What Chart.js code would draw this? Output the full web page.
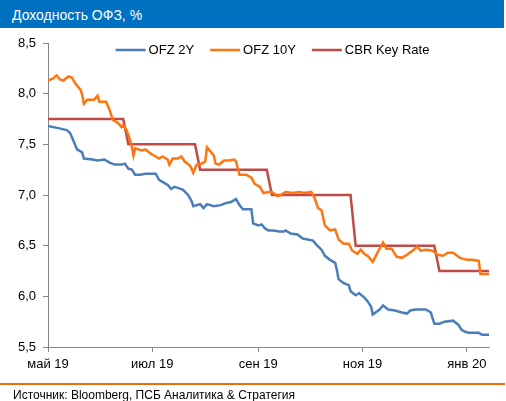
<!DOCTYPE html>
<html>
<head>
<meta charset="utf-8">
<script src="https://cdn.jsdelivr.net/npm/chart.js@4.4.1/dist/chart.umd.min.js"></script>
<style>
  body { margin: 0; width: 506px; height: 401px; position: relative; overflow: hidden; background: #fff;
         font-family: "Liberation Sans", Arial, sans-serif; }
  #chart { position: absolute; left: 0; top: 0; }
  #title { position: absolute; left: 0; top: 0; width: 504px; height: 28px; background: #0070C0; color: #fff;
           font-size: 14px; line-height: 30px; padding-left: 12px; box-sizing: border-box; }
  #rule { position: absolute; left: 0; top: 383px; width: 505px; height: 2px; background: #E46C0A; }
  #source { position: absolute; left: 13px; top: 388px; font-size: 12px; color: #000; }
</style>
</head>
<body>
<canvas id="chart" width="506" height="401"></canvas>
<div id="title">Доходность ОФЗ, %</div>
<div id="rule"></div>
<div id="source">Источник: Bloomberg, ПСБ Аналитика &amp; Стратегия</div>
<script>
// Axis
const startDate = '2019-05-01';
const endDate = '2020-01-14';
const tickDates = ['2019-05-01', '2019-07-01', '2019-09-01', '2019-11-01', '2020-01-01'];
const tickLabels = ['май 19', 'июл 19', 'сен 19', 'ноя 19', 'янв 20'];

// OFZ 2Y
const ofz2yDates = ['2019-05-01','2019-05-07','2019-05-12','2019-05-14','2019-05-16','2019-05-18','2019-05-21','2019-05-22',
  '2019-05-27','2019-05-30','2019-06-03','2019-06-06','2019-06-09','2019-06-13','2019-06-15','2019-06-17','2019-06-19',
  '2019-06-21','2019-06-24','2019-06-27','2019-06-30','2019-07-03','2019-07-05','2019-07-07','2019-07-10','2019-07-12',
  '2019-07-14','2019-07-16','2019-07-19','2019-07-22','2019-07-24','2019-07-25','2019-07-29','2019-07-31','2019-08-02',
  '2019-08-06','2019-08-10','2019-08-13','2019-08-16','2019-08-19','2019-08-21','2019-08-23','2019-08-25','2019-08-28',
  '2019-08-29','2019-09-01','2019-09-03','2019-09-05','2019-09-07','2019-09-10','2019-09-13','2019-09-16','2019-09-17',
  '2019-09-20','2019-09-24','2019-09-27','2019-09-30','2019-10-03','2019-10-05','2019-10-08','2019-10-10','2019-10-13',
  '2019-10-16','2019-10-17','2019-10-18','2019-10-21','2019-10-24','2019-10-25','2019-10-28','2019-10-30','2019-11-02',
  '2019-11-04','2019-11-06','2019-11-07','2019-11-11','2019-11-13','2019-11-16','2019-11-20','2019-11-24','2019-11-27',
  '2019-11-29','2019-12-02','2019-12-08','2019-12-11','2019-12-13','2019-12-16','2019-12-19','2019-12-24','2019-12-27',
  '2019-12-29','2019-12-31','2020-01-02','2020-01-08','2020-01-10','2020-01-14'];
const ofz2y = [7.68,7.66,7.64,7.61,7.53,7.45,7.42,7.36,
  7.35,7.34,7.35,7.32,7.30,7.30,7.31,7.26,7.25,
  7.20,7.20,7.21,7.21,7.21,7.15,7.13,7.10,7.06,
  7.08,7.07,7.05,7.00,6.94,6.89,6.91,6.87,6.91,
  6.89,6.90,6.92,6.93,6.96,6.90,6.86,6.86,6.86,
  6.72,6.70,6.71,6.67,6.65,6.65,6.64,6.64,6.65,
  6.62,6.61,6.57,6.56,6.55,6.51,6.46,6.40,6.36,
  6.33,6.26,6.17,6.13,6.11,6.05,6.01,6.03,5.99,
  5.95,5.90,5.82,5.87,5.91,5.87,5.86,5.84,5.83,
  5.86,5.87,5.87,5.84,5.73,5.73,5.75,5.76,5.72,
  5.67,5.65,5.64,5.64,5.62,5.62];

// OFZ 10Y
const ofz10yDates = ['2019-05-01','2019-05-04','2019-05-06','2019-05-08','2019-05-10','2019-05-13','2019-05-15','2019-05-17',
  '2019-05-20','2019-05-21','2019-05-22','2019-05-24','2019-05-28','2019-05-30','2019-05-31','2019-06-04','2019-06-06',
  '2019-06-08','2019-06-11','2019-06-13','2019-06-14','2019-06-16','2019-06-18','2019-06-19','2019-06-20','2019-06-21',
  '2019-06-25','2019-06-27','2019-06-30','2019-07-03','2019-07-05','2019-07-07','2019-07-10','2019-07-11','2019-07-13',
  '2019-07-16','2019-07-18','2019-07-20','2019-07-23','2019-07-24','2019-07-25','2019-07-27','2019-07-30','2019-08-01',
  '2019-08-02','2019-08-04','2019-08-06','2019-08-07','2019-08-09','2019-08-12','2019-08-15','2019-08-18','2019-08-19',
  '2019-08-21','2019-08-23','2019-08-25','2019-08-28','2019-08-30','2019-09-02','2019-09-04','2019-09-07','2019-09-09',
  '2019-09-12','2019-09-14','2019-09-17','2019-09-21','2019-09-25','2019-09-28','2019-10-02','2019-10-04','2019-10-06',
  '2019-10-08','2019-10-10','2019-10-13','2019-10-16','2019-10-18','2019-10-21','2019-10-24','2019-10-26','2019-10-29',
  '2019-10-31','2019-11-02','2019-11-04','2019-11-07','2019-11-10','2019-11-13','2019-11-15','2019-11-18','2019-11-21',
  '2019-11-24','2019-11-27','2019-12-01','2019-12-03','2019-12-05','2019-12-08','2019-12-12','2019-12-15','2019-12-18',
  '2019-12-21','2019-12-24','2019-12-28','2020-01-01','2020-01-04','2020-01-08','2020-01-09','2020-01-14'];
const ofz10y = [8.13,8.15,8.18,8.14,8.13,8.17,8.16,8.10,
  8.04,7.99,7.90,7.94,7.94,7.98,7.92,7.92,7.84,
  7.74,7.71,7.67,7.69,7.64,7.54,7.48,7.39,7.46,
  7.44,7.45,7.41,7.38,7.36,7.38,7.35,7.30,7.36,
  7.36,7.38,7.33,7.29,7.26,7.22,7.30,7.31,7.33,
  7.47,7.43,7.39,7.31,7.30,7.34,7.34,7.35,7.33,
  7.20,7.20,7.20,7.17,7.11,7.08,7.02,7.03,7.03,
  6.99,7.00,7.03,7.02,7.03,7.02,7.03,6.97,6.87,
  6.85,6.70,6.65,6.66,6.56,6.52,6.52,6.45,6.42,
  6.46,6.42,6.40,6.34,6.44,6.53,6.47,6.47,6.39,
  6.38,6.41,6.46,6.49,6.45,6.46,6.45,6.41,6.40,
  6.43,6.43,6.38,6.36,6.36,6.35,6.22,6.22];

// CBR Key Rate
const keyRateDates = ['2019-05-01','2019-06-14','2019-06-17','2019-07-26','2019-07-29','2019-09-06','2019-09-09',
  '2019-10-25','2019-10-28','2019-12-13','2019-12-16','2020-01-14'];
const keyRate = [7.75,7.75,7.50,7.50,7.25,7.25,7.00,7.00,6.50,6.50,6.25,6.25];

const FONT = '"Liberation Sans", Arial, sans-serif';
const AXIS_COLOR = '#868686';

function day(s) {
  return (Date.parse(s) - Date.parse(startDate)) / 86400000;
}

function points(dates, values) {
  return dates.map((d, i) => ({ x: day(d), y: values[i] }));
}

// Legend drawn on top of the plot, like the original
const topLegend = {
  id: 'topLegend',
  afterDraw(chart) {
    const ctx = chart.ctx;
    const area = chart.chartArea;
    ctx.save();
    ctx.font = '13px ' + FONT;
    ctx.textBaseline = 'middle';
    const lineLen = 30, textGap = 3, itemGap = 16;
    const items = chart.data.datasets.map(ds => ({
      text: ds.label, color: ds.borderColor, w: ctx.measureText(ds.label).width
    }));
    const total = items.reduce((s, it) => s + lineLen + textGap + it.w, 0) + itemGap * (items.length - 1);
    let x = (area.left + area.right) / 2 + 4 - total / 2;
    const y = 50;
    items.forEach(it => {
      ctx.strokeStyle = it.color;
      ctx.lineWidth = 2.5;
      ctx.beginPath();
      ctx.moveTo(x, y);
      ctx.lineTo(x + lineLen, y);
      ctx.stroke();
      ctx.fillStyle = '#000';
      ctx.fillText(it.text, x + lineLen + textGap, y);
      x += lineLen + textGap + it.w + itemGap;
    });
    ctx.restore();
  }
};

new Chart(document.getElementById('chart'), {
  type: 'line',
  data: {
    datasets: [
      { label: 'OFZ 2Y', data: points(ofz2yDates, ofz2y), borderColor: '#4A7EBB', borderWidth: 2.5 },
      { label: 'OFZ 10Y', data: points(ofz10yDates, ofz10y), borderColor: '#FF7510', borderWidth: 2.5 },
      { label: 'CBR Key Rate', data: points(keyRateDates, keyRate), borderColor: '#BE4B48', borderWidth: 2.5 }
    ]
  },
  options: {
    responsive: false,
    animation: false,
    elements: { point: { radius: 0 }, line: { tension: 0 } },
    layout: { padding: { left: 0, right: 17, top: 43, bottom: 28 } },
    plugins: { legend: { display: false }, tooltip: { enabled: false } },
    scales: {
      x: {
        type: 'linear',
        min: 0,
        max: day(endDate),
        afterBuildTicks: s => { s.ticks = tickDates.map(d => ({ value: day(d) })); },
        afterFit: s => { s.height = 26; },
        ticks: {
          autoSkip: false, maxRotation: 0, padding: 5, color: '#000',
          font: { family: FONT, size: 13 },
          callback: v => {
            const i = tickDates.findIndex(d => day(d) === v);
            return i >= 0 ? tickLabels[i] : '';
          }
        },
        grid: { drawOnChartArea: false, drawTicks: true, tickLength: 5, color: AXIS_COLOR },
        border: { color: AXIS_COLOR, width: 1 }
      },
      y: {
        min: 5.5,
        max: 8.5,
        afterFit: s => { s.width = 48; },
        ticks: {
          stepSize: 0.5, padding: 7, color: '#000',
          font: { family: FONT, size: 13 },
          callback: v => v.toFixed(1).replace('.', ',')
        },
        grid: { drawOnChartArea: false, drawTicks: true, tickLength: 5, color: AXIS_COLOR },
        border: { color: AXIS_COLOR, width: 1 }
      }
    }
  },
  plugins: [topLegend]
});
</script>
</body>
</html>
